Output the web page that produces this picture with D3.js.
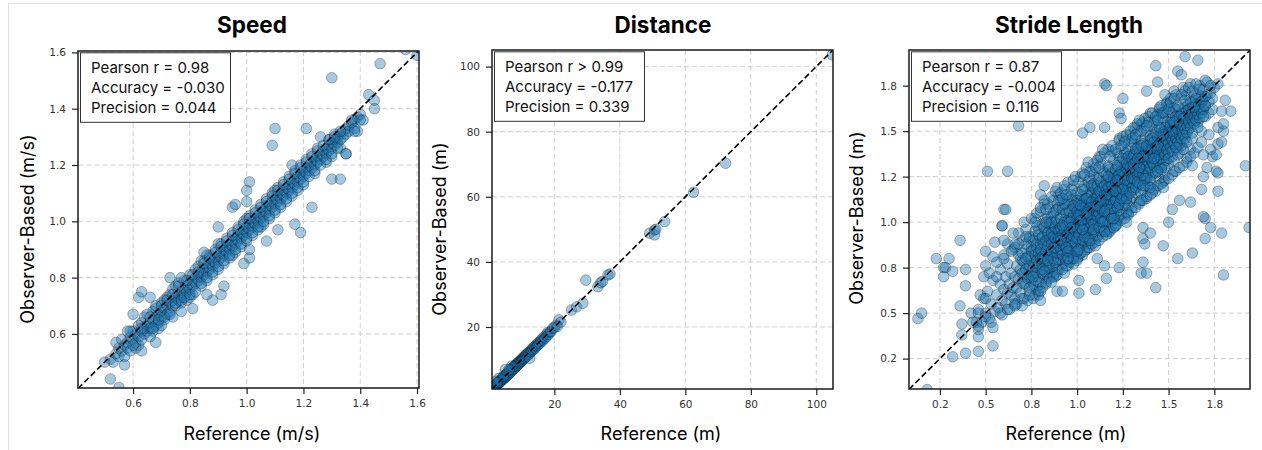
<!DOCTYPE html>
<html>
<head>
<meta charset="utf-8">
<script src="https://cdn.jsdelivr.net/npm/d3@7"></script>
<style>
  body { margin: 0; background: #fff; }
  svg { display: block; }
</style>
</head>
<body>
<div id="canvas"></div>
<script>
// ---- data (reference, observer-based) ----

const speedTicks = [0.6, 0.8, 1.0, 1.2, 1.4, 1.6];
const speedTickLabels = ["0.6", "0.8", "1.0", "1.2", "1.4", "1.6"];
const speedStats = ["Pearson r = 0.98", "Accuracy = -0.030", "Precision = 0.044"];

const speedBand = [
  [0.52,0.51],[0.53,0.50],[0.54,0.53],[0.55,0.52],[0.55,0.55],[0.56,0.54],[0.57,0.52],[0.57,0.56],[0.54,0.57],[0.56,0.58],
  [0.58,0.57],[0.58,0.55],[0.59,0.59],[0.59,0.54],[0.60,0.58],[0.60,0.61],[0.61,0.57],[0.61,0.60],[0.62,0.59],[0.62,0.63],[0.59,0.61],[0.61,0.55],[0.62,0.56],
  [0.63,0.61],[0.63,0.64],[0.63,0.58],[0.64,0.62],[0.64,0.60],[0.64,0.66],[0.65,0.63],[0.65,0.61],[0.65,0.67],[0.66,0.64],[0.66,0.62],[0.67,0.65],[0.67,0.68],[0.67,0.61],[0.66,0.59],
  [0.68,0.66],[0.68,0.63],[0.68,0.69],[0.69,0.67],[0.69,0.64],[0.70,0.68],[0.70,0.66],[0.70,0.71],[0.71,0.69],[0.71,0.65],[0.71,0.72],[0.72,0.70],[0.72,0.67],[0.72,0.73],[0.69,0.62],[0.70,0.63],
  [0.73,0.71],[0.73,0.68],[0.73,0.74],[0.74,0.72],[0.74,0.70],[0.74,0.76],[0.75,0.73],[0.75,0.70],[0.75,0.77],[0.76,0.74],[0.76,0.72],[0.76,0.78],[0.77,0.75],[0.77,0.73],[0.77,0.71],[0.74,0.66],
  [0.78,0.76],[0.78,0.74],[0.78,0.79],[0.79,0.77],[0.79,0.75],[0.79,0.72],[0.80,0.78],[0.80,0.76],[0.80,0.81],[0.81,0.79],[0.81,0.77],[0.81,0.74],[0.82,0.80],[0.82,0.78],[0.82,0.83],[0.80,0.73],
  [0.83,0.81],[0.83,0.79],[0.83,0.84],[0.84,0.82],[0.84,0.80],[0.84,0.77],[0.85,0.83],[0.85,0.81],[0.85,0.86],[0.86,0.84],[0.86,0.82],[0.86,0.79],[0.87,0.85],[0.87,0.83],[0.87,0.88],[0.84,0.86],[0.86,0.88],
  [0.88,0.86],[0.88,0.84],[0.88,0.81],[0.89,0.87],[0.89,0.85],[0.89,0.90],[0.90,0.88],[0.90,0.86],[0.90,0.83],[0.91,0.89],[0.91,0.87],[0.91,0.92],[0.92,0.90],[0.92,0.88],[0.92,0.85],[0.90,0.92],
  [0.93,0.91],[0.93,0.89],[0.93,0.94],[0.94,0.92],[0.94,0.90],[0.94,0.87],[0.95,0.93],[0.95,0.91],[0.95,0.96],[0.96,0.94],[0.96,0.92],[0.96,0.89],[0.97,0.95],[0.97,0.93],[0.97,0.98],[0.95,0.88],
  [0.98,0.96],[0.98,0.94],[0.98,0.91],[0.99,0.97],[0.99,0.95],[0.99,1.00],[1.00,0.98],[1.00,0.96],[1.00,0.93],[1.01,0.99],[1.01,0.97],[1.01,1.02],[1.02,1.00],[1.02,0.98],[1.02,0.95],[1.00,1.01],
  [1.03,1.01],[1.03,0.99],[1.03,1.04],[1.04,1.02],[1.04,1.00],[1.04,0.97],[1.05,1.03],[1.05,1.01],[1.05,1.06],[1.06,1.04],[1.06,1.02],[1.06,0.99],[1.07,1.05],[1.07,1.03],[1.07,1.08],[1.05,0.98],
  [1.08,1.06],[1.08,1.04],[1.08,1.01],[1.09,1.07],[1.09,1.05],[1.09,1.10],[1.10,1.08],[1.10,1.06],[1.10,1.03],[1.11,1.09],[1.11,1.07],[1.11,1.12],[1.12,1.10],[1.12,1.08],[1.12,1.05],[1.10,1.11],
  [1.13,1.11],[1.13,1.09],[1.13,1.14],[1.14,1.12],[1.14,1.10],[1.14,1.07],[1.15,1.13],[1.15,1.11],[1.15,1.16],[1.16,1.14],[1.16,1.12],[1.16,1.09],[1.17,1.15],[1.17,1.13],[1.17,1.18],
  [1.18,1.16],[1.18,1.14],[1.18,1.11],[1.19,1.17],[1.19,1.15],[1.19,1.20],[1.20,1.18],[1.20,1.16],[1.20,1.13],[1.21,1.19],[1.21,1.17],[1.21,1.22],[1.22,1.20],[1.22,1.18],
  [1.23,1.21],[1.23,1.19],[1.23,1.24],[1.24,1.22],[1.24,1.20],[1.24,1.17],[1.25,1.23],[1.25,1.21],[1.25,1.26],[1.26,1.24],[1.26,1.22],[1.27,1.25],[1.27,1.23],
  [1.28,1.26],[1.28,1.24],[1.28,1.21],[1.29,1.27],[1.29,1.25],[1.29,1.29],[1.30,1.28],[1.30,1.26],[1.30,1.23],[1.31,1.29],[1.31,1.27],[1.32,1.30],[1.32,1.28],[1.31,1.31],
  [1.33,1.31],[1.33,1.29],[1.33,1.26],[1.34,1.32],[1.34,1.30],[1.35,1.33],[1.35,1.31],[1.35,1.24],[1.36,1.34],[1.36,1.32],[1.37,1.35],
  [1.38,1.36],[1.38,1.33],[1.39,1.37],[1.39,1.32],[1.40,1.38],[1.41,1.36]
];

const speedBandDense = [
  [0.66,0.66],[0.67,0.62],[0.68,0.70],[0.69,0.65],[0.70,0.70],[0.71,0.66],[0.72,0.72],[0.73,0.67],[0.74,0.74],[0.75,0.71],
  [0.76,0.77],[0.77,0.72],[0.78,0.73],[0.79,0.79],[0.80,0.74],[0.81,0.81],[0.82,0.75],[0.83,0.82],[0.84,0.78],[0.85,0.85],
  [0.86,0.80],[0.87,0.87],[0.88,0.82],[0.89,0.89],[0.90,0.84],[0.91,0.91],[0.92,0.86],[0.93,0.93],[0.94,0.88],[0.95,0.95],
  [0.96,0.90],[0.97,0.97],[0.98,0.92],[0.99,0.99],[1.00,0.94],[1.01,1.01],[1.02,0.96],[1.03,1.03],[1.04,0.98],[1.05,1.05],
  [1.06,1.00],[1.07,1.07],[1.08,1.02],[1.09,1.09],[1.10,1.04],[1.11,1.11],[1.12,1.06],[1.13,1.13],[1.14,1.08],[1.15,1.15],
  [1.16,1.10],[1.17,1.17],[1.18,1.12],[1.19,1.19],[1.20,1.14],[1.21,1.21],[1.22,1.16],[1.23,1.23],[1.24,1.18],[1.25,1.25],
  [1.26,1.20],[1.27,1.27],[1.28,1.22],[1.29,1.29],[1.30,1.24],[1.31,1.30],[1.32,1.26],[1.33,1.32],[0.63,0.62],[0.60,0.56]
];

const speedOutliers = [
  [1.56,1.61],[1.60,1.59],[1.47,1.56],[1.30,1.51],[1.43,1.45],[1.45,1.43],[1.45,1.40],[1.40,1.36],[1.37,1.36],[1.38,1.32],
  [1.10,1.33],[1.21,1.33],[1.09,1.27],[1.26,1.30],[1.30,1.15],[1.33,1.15],[1.35,1.24],[1.16,1.20],[1.23,1.05],[1.17,0.99],
  [1.19,0.96],[1.07,0.93],[1.11,0.97],[1.01,1.14],[1.00,1.11],[0.95,1.05],[0.96,1.06],[1.00,1.07],[0.90,0.98],[1.01,0.90],
  [1.01,0.87],[0.99,0.85],[0.91,0.74],[0.88,0.72],[0.92,0.77],[0.86,0.74],[0.85,0.89],[0.77,0.68],[0.81,0.69],[0.73,0.80],
  [0.77,0.80],[0.66,0.73],[0.62,0.73],[0.63,0.75],[0.60,0.67],[0.68,0.57],[0.63,0.54],[0.57,0.49],[0.58,0.61],[0.50,0.50],
  [0.52,0.44],[0.55,0.41]
];

const distanceTicks = [20, 40, 60, 80, 100];
const distanceTickLabels = ["20", "40", "60", "80", "100"];
const distanceStats = ["Pearson r > 0.99", "Accuracy = -0.177", "Precision = 0.339"];

const distanceBand = [
  [1.2,1.1],[1.4,1.5],[1.5,1.3],[1.7,1.8],[1.8,1.6],[2.0,2.1],[2.1,1.9],[2.3,2.2],[2.4,2.6],[2.5,2.3],
  [2.7,2.8],[2.8,2.5],[3.0,3.1],[3.1,2.8],[3.3,3.4],[3.4,3.1],[3.6,3.7],[3.7,3.3],[3.9,4.0],[4.0,3.7],
  [4.2,4.4],[4.3,3.9],[4.5,4.6],[4.6,4.2],[4.8,5.0],[4.9,4.5],[5.1,5.3],[5.2,4.8],[5.4,5.6],[5.5,5.0],
  [5.7,5.9],[5.8,5.3],[6.0,6.1],[6.1,5.6],[6.3,6.5],[6.4,6.0],[6.6,6.8],[6.7,6.2],[6.9,7.1],[7.0,6.6],
  [7.2,7.3],[7.3,6.9],[7.5,7.7],[7.6,7.1],[7.8,8.0],[7.9,7.4],[8.1,8.2],[8.2,7.8],[8.4,8.6],[8.5,8.0],
  [8.7,8.8],[8.8,8.3],[9.0,9.1],[9.1,8.7],[9.3,9.4],[9.5,9.0],[9.6,9.7],[9.8,9.3],[10.0,10.1],[10.1,9.6],
  [10.3,10.4],[10.5,10.0],[10.7,10.8],[10.8,10.3],[11.0,11.1],[11.2,10.7],[11.4,11.5],[11.5,11.0],[11.7,11.8],[11.9,11.4],
  [12.1,12.2],[12.3,11.7],[12.5,10.4],[12.6,12.5],[12.8,12.3],[13.0,13.1],[13.2,12.7],[13.4,13.5],[13.6,13.1],[13.9,13.9],
  [14.1,13.5],[14.3,14.3],[14.6,14.1],[14.8,14.9],[15.0,14.5],[15.3,15.3],[15.5,14.9],[15.8,15.8],[16.0,15.5],[16.3,16.4],
  [16.6,16.0],[16.9,17.0],[17.2,16.6],[17.5,17.6],[17.8,17.2],[18.0,18.4],[18.3,17.8],[18.7,18.5],[19.0,18.6],[19.5,19.6],
  [20.0,19.8],[5.1,7.0],[3.0,4.2],[2.2,3.3],[7.0,8.0],[1.0,1.2],[1.3,0.9],[2.6,2.9],[4.4,4.9],[6.2,6.9]
];

const distanceOutliers = [
  [20.6,20.6],[21.4,22.2],[22.0,21.5],[21.0,20.2],[25.2,25.2],[26.8,26.2],[28.7,27.3],[29.6,34.4],[33.3,32.4],[34.1,33.6],
  [34.7,34.0],[36.4,36.0],[37.0,36.3],[49.1,48.8],[50.6,49.8],[50.6,48.3],[51.0,50.0],[53.7,52.4],[62.5,61.4],[72.3,70.3],
  [104.9,103.6]
];

const strideTicks = [0.25, 0.5, 0.75, 1.0, 1.25, 1.5, 1.75];
const strideTickLabels = ["0.2", "0.5", "0.8", "1.0", "1.2", "1.5", "1.8"];
const strideStats = ["Pearson r = 0.87", "Accuracy = -0.004", "Precision = 0.116"];

const strideCore = [
  [0.46,0.52],[0.48,0.45],[0.49,0.58],[0.50,0.50],[0.51,0.62],[0.52,0.47],[0.53,0.55],[0.54,0.68],[0.52,0.72],[0.55,0.51],[0.47,0.60],[0.54,0.42],
  [0.56,0.60],[0.57,0.53],[0.58,0.66],[0.58,0.74],[0.59,0.57],[0.60,0.63],[0.60,0.82],[0.61,0.55],[0.61,0.70],[0.62,0.61],
  [0.62,0.77],[0.63,0.66],[0.63,0.52],[0.64,0.72],[0.64,0.60],[0.65,0.85],[0.56,0.70],[0.59,0.49],[0.62,0.88],[0.65,0.64],
  [0.66,0.70],[0.66,0.58],[0.67,0.76],[0.67,0.64],[0.68,0.82],[0.68,0.69],[0.69,0.61],[0.69,0.74],[0.70,0.90],[0.70,0.67],
  [0.70,0.79],[0.71,0.72],[0.71,0.58],[0.72,0.85],[0.72,0.66],[0.72,0.96],[0.73,0.76],[0.73,0.70],[0.74,0.62],[0.74,0.81],
  [0.74,0.91],[0.75,0.73],[0.75,0.68],[0.66,0.86],[0.68,0.94],[0.71,1.00],[0.73,0.57],[0.69,0.80],[0.75,0.86],[0.67,0.55],
  [0.76,0.78],[0.76,0.66],[0.76,0.92],[0.77,0.72],[0.77,0.84],[0.77,1.02],[0.78,0.75],[0.78,0.63],[0.78,0.88],[0.79,0.80],
  [0.79,0.70],[0.79,0.96],[0.80,0.82],[0.80,0.74],[0.80,1.06],[0.80,0.66],[0.81,0.89],[0.81,0.77],[0.81,0.99],[0.82,0.71],
  [0.82,0.84],[0.82,0.93],[0.82,1.10],[0.83,0.79],[0.83,0.67],[0.83,0.87],[0.83,1.02],[0.84,0.75],[0.84,0.92],[0.84,0.82],
  [0.84,0.70],[0.85,0.86],[0.85,0.97],[0.85,0.78],[0.85,1.08],[0.76,0.85],[0.78,0.98],[0.79,0.62],[0.81,0.72],[0.82,0.78],
  [0.83,0.95],[0.84,1.00],[0.77,0.60],[0.80,0.91],[0.85,0.72],
  [0.86,0.80],[0.86,0.91],[0.86,0.72],[0.86,1.03],[0.87,0.85],[0.87,0.76],[0.87,0.96],[0.87,1.12],[0.88,0.82],[0.88,0.89],
  [0.88,0.70],[0.88,1.00],[0.89,0.87],[0.89,0.78],[0.89,0.94],[0.89,1.07],[0.90,0.84],[0.90,0.91],[0.90,0.74],[0.90,1.15],
  [0.90,0.99],[0.91,0.88],[0.91,0.80],[0.91,0.95],[0.91,1.04],[0.92,0.86],[0.92,0.92],[0.92,0.77],[0.92,1.09],[0.93,0.90],
  [0.93,0.83],[0.93,0.98],[0.93,1.18],[0.93,0.72],[0.94,0.88],[0.94,0.95],[0.94,1.02],[0.94,0.80],[0.95,0.91],[0.95,0.85],
  [0.95,1.06],[0.95,0.97],[0.86,0.97],[0.87,0.90],[0.88,1.06],[0.89,0.83],[0.90,0.79],[0.91,1.12],[0.92,0.97],[0.93,0.87],
  [0.94,1.10],[0.95,0.76],[0.88,0.94],[0.91,0.91],[0.94,0.84],
  [0.96,0.93],[0.96,0.86],[0.96,1.01],[0.96,1.14],[0.96,0.79],[0.97,0.90],[0.97,0.97],[0.97,1.07],[0.97,0.83],[0.98,0.94],
  [0.98,1.02],[0.98,0.88],[0.98,1.20],[0.98,0.77],[0.99,0.96],[0.99,1.05],[0.99,0.91],[0.99,0.84],[1.00,0.99],[1.00,0.93],
  [1.00,1.09],[1.00,0.86],[1.00,1.16],[1.01,0.97],[1.01,1.03],[1.01,0.90],[1.01,0.81],[1.02,1.00],[1.02,0.94],[1.02,1.12],
  [1.02,1.25],[1.03,0.98],[1.03,1.06],[1.03,0.88],[1.03,0.82],[1.04,1.02],[1.04,0.95],[1.04,1.10],[1.04,1.18],[1.05,0.99],
  [1.05,1.05],[1.05,0.91],[1.05,0.85],[0.96,0.97],[0.97,1.12],[0.98,0.98],[0.99,1.00],[1.00,1.04],[1.01,1.08],[1.02,0.87],
  [1.03,1.14],[1.04,0.89],[1.05,1.13],[0.97,0.93],[0.99,1.10],[1.01,0.94],[1.03,1.02],[1.05,0.96],[1.00,0.80],[1.02,1.06],
  [1.06,1.03],[1.06,0.96],[1.06,1.10],[1.06,0.88],[1.06,1.22],[1.07,1.00],[1.07,1.07],[1.07,0.93],[1.07,1.16],[1.08,1.04],
  [1.08,0.98],[1.08,1.12],[1.08,0.90],[1.08,1.28],[1.09,1.06],[1.09,1.01],[1.09,0.95],[1.09,1.19],[1.10,1.08],[1.10,1.03],
  [1.10,0.97],[1.10,1.14],[1.10,0.89],[1.11,1.05],[1.11,1.11],[1.11,0.99],[1.11,1.24],[1.12,1.09],[1.12,1.02],[1.12,1.17],
  [1.12,0.93],[1.13,1.07],[1.13,1.13],[1.13,1.00],[1.13,1.32],[1.14,1.10],[1.14,1.04],[1.14,1.20],[1.14,0.96],[1.15,1.12],
  [1.15,1.06],[1.15,1.27],[1.15,0.99],[1.06,1.06],[1.07,1.20],[1.08,1.08],[1.09,1.13],[1.10,1.01],[1.11,1.16],[1.12,1.06],
  [1.13,0.95],[1.14,1.15],[1.15,1.18],[1.07,0.86],[1.09,1.26],[1.11,0.92],[1.12,1.36],[1.13,1.21],[1.14,1.01],[1.10,1.10],
  [1.16,1.10],[1.16,1.17],[1.16,1.03],[1.16,1.26],[1.16,0.95],[1.17,1.13],[1.17,1.08],[1.17,1.21],[1.17,1.00],[1.18,1.15],
  [1.18,1.10],[1.18,1.29],[1.18,1.04],[1.18,0.96],[1.19,1.18],[1.19,1.12],[1.19,1.24],[1.19,1.06],[1.20,1.16],[1.20,1.20],
  [1.20,1.09],[1.20,1.34],[1.20,1.01],[1.21,1.19],[1.21,1.13],[1.21,1.27],[1.21,0.98],[1.22,1.21],[1.22,1.15],[1.22,1.08],
  [1.22,1.38],[1.23,1.18],[1.23,1.24],[1.23,1.11],[1.23,1.03],[1.24,1.22],[1.24,1.16],[1.24,1.31],[1.24,1.06],[1.25,1.20],
  [1.25,1.26],[1.25,1.13],[1.25,1.42],[1.16,1.21],[1.17,1.31],[1.18,1.20],[1.19,1.02],[1.20,1.25],[1.21,1.08],[1.22,1.30],
  [1.23,1.36],[1.24,1.12],[1.25,1.17],[1.17,0.94],[1.19,1.39],[1.21,1.22],[1.22,1.01],[1.23,1.46],[1.24,1.27],[1.20,1.13],
  [1.26,1.23],[1.26,1.17],[1.26,1.30],[1.26,1.09],[1.26,1.45],[1.27,1.25],[1.27,1.20],[1.27,1.35],[1.27,1.12],[1.28,1.28],
  [1.28,1.22],[1.28,1.15],[1.28,1.40],[1.28,1.05],[1.29,1.26],[1.29,1.31],[1.29,1.19],[1.29,1.48],[1.30,1.29],[1.30,1.24],
  [1.30,1.36],[1.30,1.14],[1.30,1.08],[1.31,1.27],[1.31,1.33],[1.31,1.21],[1.31,1.43],[1.32,1.30],[1.32,1.25],[1.32,1.38],
  [1.32,1.16],[1.33,1.32],[1.33,1.28],[1.33,1.50],[1.33,1.20],[1.34,1.34],[1.34,1.29],[1.34,1.41],[1.34,1.11],[1.35,1.31],
  [1.35,1.37],[1.35,1.24],[1.35,1.54],[1.26,1.38],[1.27,1.05],[1.28,1.33],[1.29,1.37],[1.30,1.44],[1.31,1.18],[1.32,1.46],
  [1.33,1.39],[1.34,1.23],[1.35,1.45],[1.29,1.12],[1.32,1.52],
  [1.36,1.34],[1.36,1.28],[1.36,1.41],[1.36,1.18],[1.36,1.55],[1.37,1.36],[1.37,1.31],[1.37,1.46],[1.37,1.23],[1.38,1.39],
  [1.38,1.33],[1.38,1.50],[1.38,1.26],[1.38,1.13],[1.39,1.37],[1.39,1.42],[1.39,1.29],[1.39,1.58],[1.40,1.40],[1.40,1.35],
  [1.40,1.47],[1.40,1.21],[1.41,1.38],[1.41,1.44],[1.41,1.32],[1.41,1.53],[1.42,1.41],[1.42,1.36],[1.42,1.48],[1.42,1.27],
  [1.43,1.43],[1.43,1.39],[1.43,1.56],[1.43,1.17],[1.44,1.45],[1.44,1.40],[1.44,1.51],[1.44,1.30],[1.45,1.42],[1.45,1.48],
  [1.45,1.35],[1.45,1.62],[1.37,1.52],[1.39,1.20],[1.40,1.60],[1.41,1.26],[1.42,1.55],[1.43,1.33],[1.44,1.59],[1.45,1.24],
  [1.46,1.45],[1.46,1.39],[1.46,1.52],[1.46,1.30],[1.47,1.47],[1.47,1.42],[1.47,1.57],[1.47,1.34],[1.48,1.50],[1.48,1.44],
  [1.48,1.61],[1.48,1.26],[1.49,1.48],[1.49,1.53],[1.49,1.40],[1.49,1.66],[1.50,1.51],[1.50,1.46],[1.50,1.58],[1.50,1.32],
  [1.51,1.49],[1.51,1.55],[1.51,1.42],[1.51,1.68],[1.52,1.52],[1.52,1.47],[1.52,1.60],[1.52,1.36],[1.53,1.54],[1.53,1.50],
  [1.53,1.63],[1.53,1.28],[1.54,1.56],[1.54,1.45],[1.54,1.70],[1.55,1.53],[1.55,1.58],[1.55,1.40],[1.46,1.60],[1.48,1.37],
  [1.50,1.64],[1.52,1.43],[1.54,1.62],[1.47,1.22],[1.53,1.72],
  [1.56,1.55],[1.56,1.49],[1.56,1.62],[1.56,1.38],[1.57,1.58],[1.57,1.52],[1.57,1.68],[1.58,1.60],[1.58,1.54],[1.58,1.44],
  [1.58,1.74],[1.59,1.57],[1.59,1.63],[1.59,1.48],[1.60,1.61],[1.60,1.56],[1.60,1.70],[1.60,1.35],[1.61,1.59],[1.61,1.65],
  [1.61,1.51],[1.62,1.63],[1.62,1.57],[1.62,1.76],[1.63,1.60],[1.63,1.66],[1.63,1.46],[1.64,1.62],[1.64,1.70],[1.64,1.55],
  [1.65,1.65],[1.65,1.59],[1.57,1.42],[1.59,1.72],[1.62,1.40],
  [1.66,1.63],[1.66,1.70],[1.66,1.55],[1.67,1.66],[1.67,1.75],[1.68,1.62],[1.68,1.69],[1.68,1.50],[1.69,1.67],[1.69,1.73],
  [1.70,1.64],[1.70,1.58],[1.71,1.70],[1.71,1.77],[1.72,1.66],[1.72,1.60],[1.73,1.71],[1.74,1.68],[1.75,1.74],[1.74,1.62]
];

// second, tighter layer where the cloud is darkest
const strideDense = [
  [0.70,0.72],[0.70,0.83],[0.71,0.66],[0.71,0.78],[0.72,0.74],[0.72,0.88],[0.73,0.69],[0.73,0.81],[0.74,0.76],[0.74,0.64],
  [0.75,0.84],[0.75,0.79],[0.75,0.71],[0.76,0.90],[0.76,0.75],[0.77,0.82],[0.77,0.68],[0.77,0.95],[0.78,0.79],[0.78,0.86],
  [0.78,0.72],[0.79,0.83],[0.79,0.77],[0.79,0.67],[0.80,0.88],[0.80,0.80],[0.72,0.80],[0.74,0.92],[0.76,0.70],[0.79,0.93],
  [0.80,0.85],[0.81,0.81],[0.81,0.92],[0.81,0.74],[0.82,0.88],[0.82,0.97],[0.82,0.80],[0.83,0.90],[0.83,0.84],[0.83,0.76],
  [0.84,0.94],[0.84,0.87],[0.84,1.03],[0.85,0.82],[0.85,0.91],[0.85,0.75],[0.85,0.99],[0.86,0.88],[0.86,0.84],[0.86,0.94],
  [0.87,0.80],[0.87,0.92],[0.87,1.05],[0.88,0.86],[0.88,0.78],[0.88,0.97],[0.88,0.91],[0.89,0.83],[0.89,1.01],[0.89,0.89],
  [0.89,0.74],[0.90,0.95],[0.90,0.87],[0.90,1.08],[0.82,0.73],[0.84,0.79],[0.86,1.00],[0.87,0.86],[0.83,1.00],[0.88,0.72],
  [0.90,0.91],[0.91,0.97],[0.91,0.85],[0.91,1.02],[0.92,0.93],[0.92,0.82],[0.92,1.07],[0.93,0.96],[0.93,0.88],[0.93,1.00],
  [0.94,0.92],[0.94,0.79],[0.94,1.05],[0.94,0.98],[0.95,0.89],[0.95,1.12],[0.95,0.94],[0.95,1.01],[0.96,0.84],[0.96,0.96],
  [0.96,1.06],[0.97,0.91],[0.97,1.02],[0.97,0.87],[0.97,1.15],[0.98,0.97],[0.98,1.04],[0.98,0.92],[0.98,0.81],[0.99,0.99],
  [0.99,1.08],[0.99,0.89],[0.99,0.95],[1.00,1.02],[1.00,0.91],[1.00,1.12],[0.91,0.90],[0.93,1.10],[0.94,0.86],[0.96,1.00],
  [0.97,0.97],[0.98,1.09],[1.00,0.97],[0.92,0.98],[0.95,0.84],
  [1.00,1.06],[1.01,1.00],[1.01,1.10],[1.01,0.93],[1.02,1.04],[1.02,0.97],[1.02,1.15],[1.03,1.08],[1.03,1.01],[1.03,0.90],
  [1.04,1.05],[1.04,1.12],[1.04,0.98],[1.04,1.20],[1.05,1.02],[1.05,1.09],[1.05,0.94],[1.06,1.07],[1.06,1.00],[1.06,1.14],
  [1.06,0.91],[1.07,1.04],[1.07,1.11],[1.07,0.97],[1.07,1.24],[1.08,1.07],[1.08,1.01],[1.08,1.16],[1.08,0.94],[1.09,1.10],
  [1.09,1.04],[1.09,0.99],[1.09,1.21],[1.10,1.06],[1.10,1.13],[1.10,0.93],[1.01,1.04],[1.02,1.09],[1.03,1.18],[1.04,0.92],
  [1.05,1.13],[1.06,1.04],[1.07,1.08],[1.08,1.11],[1.09,0.96],[1.10,1.18],[1.02,1.01],[1.05,1.05],[1.08,1.20],[1.03,0.96],
  [1.10,1.09],[1.11,1.14],[1.11,1.03],[1.11,1.20],[1.12,1.11],[1.12,1.05],[1.12,1.24],[1.12,0.97],[1.13,1.16],[1.13,1.08],
  [1.13,1.02],[1.14,1.13],[1.14,1.19],[1.14,1.06],[1.14,1.28],[1.15,1.10],[1.15,1.15],[1.15,1.01],[1.16,1.18],[1.16,1.12],
  [1.16,1.07],[1.16,1.23],[1.17,1.15],[1.17,1.10],[1.17,1.04],[1.17,1.30],[1.18,1.17],[1.18,1.12],[1.18,1.22],[1.18,1.00],
  [1.19,1.14],[1.19,1.09],[1.19,1.27],[1.20,1.19],[1.20,1.11],[1.20,1.05],[1.11,1.09],[1.12,1.17],[1.13,1.22],[1.14,1.00],
  [1.15,1.20],[1.16,1.15],[1.17,1.19],[1.18,1.07],[1.19,1.20],[1.20,1.24],[1.13,1.12],[1.15,1.06],[1.17,1.25],[1.19,1.02],
  [1.20,1.17],[1.21,1.22],[1.21,1.12],[1.21,1.29],[1.22,1.19],[1.22,1.25],[1.22,1.08],[1.23,1.22],[1.23,1.16],[1.23,1.33],
  [1.23,1.10],[1.24,1.24],[1.24,1.19],[1.24,1.28],[1.24,1.04],[1.25,1.21],[1.25,1.27],[1.25,1.14],[1.26,1.26],[1.26,1.20],
  [1.26,1.33],[1.26,1.11],[1.27,1.23],[1.27,1.29],[1.27,1.17],[1.27,1.38],[1.28,1.25],[1.28,1.20],[1.28,1.31],[1.28,1.09],
  [1.29,1.27],[1.29,1.22],[1.29,1.35],[1.30,1.28],[1.30,1.19],[1.30,1.32],[1.21,1.17],[1.22,1.31],[1.23,1.26],[1.24,1.13],
  [1.25,1.35],[1.26,1.23],[1.27,1.13],[1.28,1.36],[1.29,1.16],[1.30,1.24],[1.22,1.23],[1.25,1.18],[1.27,1.32],[1.29,1.30],
  [1.30,1.35],[1.31,1.30],[1.31,1.24],[1.31,1.37],[1.32,1.28],[1.32,1.33],[1.32,1.19],[1.33,1.31],[1.33,1.26],[1.33,1.41],
  [1.34,1.33],[1.34,1.27],[1.34,1.21],[1.34,1.38],[1.35,1.30],[1.35,1.35],[1.35,1.16],[1.36,1.32],[1.36,1.26],[1.36,1.43],
  [1.37,1.34],[1.37,1.29],[1.37,1.39],[1.37,1.20],[1.38,1.31],[1.38,1.36],[1.38,1.24],[1.39,1.33],[1.39,1.40],[1.39,1.27],
  [1.40,1.35],[1.40,1.30],[1.40,1.45],[1.31,1.32],[1.32,1.40],[1.33,1.22],[1.34,1.30],[1.35,1.42],[1.36,1.36],[1.37,1.24],
  [1.38,1.42],[1.39,1.36],[1.40,1.23],[1.33,1.35],[1.36,1.20],
  [1.41,1.40],[1.41,1.33],[1.41,1.46],[1.42,1.38],[1.42,1.31],[1.42,1.44],[1.43,1.36],[1.43,1.41],[1.43,1.27],[1.44,1.39],
  [1.44,1.34],[1.44,1.47],[1.45,1.37],[1.45,1.43],[1.45,1.30],[1.46,1.41],[1.46,1.35],[1.46,1.49],[1.47,1.39],[1.47,1.45],
  [1.47,1.32],[1.48,1.42],[1.48,1.37],[1.48,1.52],[1.49,1.40],[1.49,1.45],[1.49,1.34],[1.50,1.43],[1.50,1.38],[1.50,1.49],
  [1.42,1.35],[1.43,1.49],[1.44,1.42],[1.45,1.52],[1.46,1.29],[1.47,1.48],[1.48,1.30],[1.49,1.55],[1.50,1.35],[1.44,1.28],
  [1.51,1.47],[1.51,1.41],[1.51,1.53],[1.52,1.45],[1.52,1.39],[1.52,1.56],[1.53,1.48],[1.53,1.43],[1.53,1.34],[1.54,1.50],
  [1.54,1.46],[1.54,1.58],[1.55,1.44],[1.55,1.51],[1.55,1.37],[1.56,1.48],[1.56,1.54],[1.56,1.43],[1.57,1.50],[1.57,1.46],
  [1.57,1.60],[1.58,1.48],[1.58,1.53],[1.58,1.40],[1.59,1.51],[1.59,1.46],[1.59,1.58],[1.60,1.53],[1.60,1.49],[1.60,1.44],
  [1.52,1.50],[1.54,1.41],[1.56,1.58],[1.58,1.57],[1.53,1.55],
  [1.61,1.55],[1.61,1.62],[1.62,1.52],[1.62,1.59],[1.63,1.56],[1.63,1.63],[1.63,1.49],[1.64,1.58],[1.64,1.54],[1.65,1.61],
  [1.65,1.56],[1.65,1.68],[1.66,1.59],[1.66,1.64],[1.67,1.57],[1.67,1.62],[1.68,1.60],[1.68,1.66],[1.69,1.62],[1.69,1.58],
  [1.70,1.64],[1.70,1.69],[1.62,1.66],[1.64,1.63],[1.66,1.52]
];

// points on the wide flanks of the cloud
const strideSpread = [
  [0.75,1.02],[0.76,0.58],[0.78,1.05],[0.79,0.60],[0.80,1.08],[0.81,0.64],[0.82,1.12],[0.83,0.66],[0.84,1.10],[0.85,0.69],
  [0.86,1.14],[0.87,0.70],[0.88,1.17],[0.89,0.71],[0.90,1.12],[0.77,1.00],[0.80,0.62],[0.83,1.07],[0.86,0.67],[0.89,1.19],
  [0.91,1.16],[0.92,0.74],[0.93,1.20],[0.94,0.76],[0.95,1.22],[0.96,0.78],[0.97,1.18],[0.98,0.80],[0.99,1.25],[1.00,0.79],
  [1.01,1.22],[1.02,0.83],[1.03,1.27],[1.04,0.84],[1.05,1.30],[1.06,0.86],[1.07,1.28],[1.08,0.88],[1.09,1.32],[1.10,0.87],
  [0.92,1.13],[0.95,0.80],[0.98,1.23],[1.01,0.85],[1.04,1.26],[1.07,0.90],[1.10,1.30],[0.94,1.15],[1.00,0.84],[1.06,1.33],
  [1.11,1.34],[1.12,0.90],[1.13,1.36],[1.14,0.92],[1.15,1.38],[1.16,0.93],[1.17,1.40],[1.18,0.95],[1.19,1.42],[1.20,0.97],
  [1.21,1.40],[1.22,0.99],[1.23,1.45],[1.24,1.01],[1.25,1.47],[1.26,1.02],[1.27,1.48],[1.28,1.04],[1.29,1.50],[1.30,1.06],
  [1.12,1.30],[1.15,0.95],[1.18,1.36],[1.21,0.98],[1.24,1.42],[1.27,1.00],[1.30,1.46],[1.14,1.40],[1.20,1.02],[1.26,1.44],
  [1.31,1.52],[1.32,1.08],[1.33,1.54],[1.34,1.10],[1.35,1.50],[1.36,1.12],[1.37,1.57],[1.38,1.14],[1.39,1.55],[1.40,1.15],
  [1.41,1.60],[1.42,1.18],[1.43,1.58],[1.44,1.20],[1.45,1.63],[1.46,1.21],[1.47,1.60],[1.48,1.23],[1.49,1.65],[1.50,1.24],
  [1.32,1.48],[1.35,1.12],[1.38,1.53],[1.41,1.16],[1.44,1.56],[1.47,1.19],[1.50,1.62],[1.34,1.56],[1.40,1.19],[1.46,1.64],
  [1.51,1.66],[1.52,1.26],[1.53,1.68],[1.54,1.28],[1.55,1.64],[1.56,1.30],[1.57,1.70],[1.58,1.31],[1.59,1.67],[1.60,1.33],
  [1.61,1.74],[1.62,1.36],[1.63,1.72],[1.64,1.38],[1.65,1.76],[1.66,1.41],[1.67,1.73],[1.68,1.44],[1.70,1.78],[1.72,1.48],
  [0.56,0.78],[0.58,0.50],[0.60,0.80],[0.62,0.52],[0.64,0.84],[0.66,0.55],[0.68,0.88],[0.70,0.58],[0.72,0.92],[0.74,0.60]
];

const strideOutliers = [
  [0.13,0.47],[0.15,0.50],[0.18,0.08],[0.23,0.80],[0.27,0.75],[0.28,0.75],[0.27,0.70],[0.30,0.80],[0.32,0.73],[0.36,0.90],
  [0.39,0.74],[0.39,0.65],[0.36,0.54],[0.37,0.44],[0.37,0.38],[0.32,0.26],[0.39,0.28],[0.42,0.50],[0.46,0.50],[0.45,0.45],
  [0.46,0.41],[0.46,0.37],[0.46,0.29],[0.54,0.32],[0.46,0.43],[0.43,0.45],[0.50,0.58],[0.50,0.48],[0.53,0.45],[0.59,0.98],
  [0.65,0.94],[0.66,0.88],[0.50,0.84],[0.50,0.76],[0.49,0.70],[0.55,0.89],[0.54,0.81],[0.60,0.90],[0.80,0.57],[0.89,0.62],
  [0.68,1.53],[0.51,1.28],[0.62,1.28],[0.60,1.07],[0.82,1.20],[0.80,1.15],[0.61,1.07],[0.59,0.98],[0.70,0.54],[0.66,0.54],
  [0.92,0.62],[1.01,0.61],[1.01,0.68],[1.10,0.63],[1.16,0.69],[1.15,0.76],[1.11,0.80],[1.23,0.75],[1.36,0.91],[1.36,0.97],
  [1.40,0.94],[1.37,0.88],[1.36,0.78],[1.35,0.72],[1.38,0.72],[1.43,0.64],[1.47,0.87],[1.50,1.00],[1.55,0.80],[1.63,0.83],
  [1.70,1.02],[1.70,0.91],[1.73,0.97],[1.79,0.94],[1.80,0.71],[1.94,0.97],[1.92,1.31],[1.77,1.17],[1.76,1.28],[1.74,1.36],
  [1.62,1.11],[1.56,1.12],[1.69,1.03],[1.52,1.07],[1.68,1.18],[1.69,1.25],[1.71,1.30],[1.77,1.27],[1.76,1.37],[1.73,1.40],
  [1.77,1.43],[1.79,1.44],[1.80,1.50],[1.77,1.52],[1.80,1.54],[1.84,1.61],[1.79,1.61],[1.81,1.67],[1.77,1.76],[1.73,1.75],
  [1.59,1.91],[1.66,1.89],[1.43,1.86],[1.15,1.76],[1.16,1.75],[1.25,1.68],[1.55,1.83],[1.57,1.81],[1.44,1.77],[1.38,1.72],
  [1.48,1.70],[1.03,1.49],[1.07,1.52],[1.15,1.52],[1.23,1.60],[1.24,1.57],[1.63,1.31],[1.69,1.37]
];

// ---- layout ----
const width = 1262;
const height = 450;

const svg = d3.select("#canvas")
  .append("svg")
  .attr("width", width)
  .attr("height", height);

// faint screenshot edge lines
svg.append("line")
  .attr("x1", 8.5).attr("y1", 3.5).attr("x2", width).attr("y2", 3.5)
  .attr("stroke", "#e2e2e2").attr("stroke-width", 1);
svg.append("line")
  .attr("x1", 8.5).attr("y1", 3.5).attr("x2", 8.5).attr("y2", height)
  .attr("stroke", "#e2e2e2").attr("stroke-width", 1);

const panels = [
  {
    id: "speed", title: "Speed", titleX: 252,
    xLabel: "Reference (m/s)", yLabel: "Observer-Based (m/s)", xLabelX: 252, yLabelX: 28, yLabelY: 229,
    left: 78, right: 419, top: 51, bottom: 388,
    domainX: [0.406, 1.607], domainY: [0.408, 1.605],
    ticks: speedTicks, tickLabels: speedTickLabels, stats: speedStats,
    points: speedBand.concat(speedBandDense, speedOutliers)
  },
  {
    id: "distance", title: "Distance", titleX: 663,
    xLabel: "Reference (m)", yLabel: "Observer-Based (m)", xLabelX: 661, yLabelX: 440, yLabelY: 229,
    left: 492, right: 833, top: 50, bottom: 389,
    domainX: [0.95, 105.1], domainY: [0.95, 105.1],
    ticks: distanceTicks, tickLabels: distanceTickLabels, stats: distanceStats,
    points: distanceBand.concat(distanceOutliers)
  },
  {
    id: "stride", title: "Stride Length", titleX: 1069,
    xLabel: "Reference (m)", yLabel: "Observer-Based (m)", xLabelX: 1066, yLabelX: 857, yLabelY: 218,
    left: 909, right: 1250, top: 50, bottom: 389,
    domainX: [0.081, 1.945], domainY: [0.083, 1.946],
    ticks: strideTicks, tickLabels: strideTickLabels, stats: strideStats,
    points: strideCore.concat(strideDense, strideSpread, strideOutliers)
  }
];

panels.forEach(drawPanel);

function drawPanel(p) {
  const x = d3.scaleLinear().domain(p.domainX).range([p.left, p.right]);
  const y = d3.scaleLinear().domain(p.domainY).range([p.bottom, p.top]);
  const g = svg.append("g");

  // grid
  g.append("g").selectAll("line")
    .data(p.ticks.filter(d => d >= p.domainX[0] && d <= p.domainX[1]))
    .join("line")
    .attr("x1", d => x(d)).attr("x2", d => x(d))
    .attr("y1", p.top).attr("y2", p.bottom)
    .attr("stroke", "#cfcfcf").attr("stroke-width", 1).attr("stroke-dasharray", "5,3");
  g.append("g").selectAll("line")
    .data(p.ticks.filter(d => d >= p.domainY[0] && d <= p.domainY[1]))
    .join("line")
    .attr("y1", d => y(d)).attr("y2", d => y(d))
    .attr("x1", p.left).attr("x2", p.right)
    .attr("stroke", "#cfcfcf").attr("stroke-width", 1).attr("stroke-dasharray", "5,3");

  // clipped plot area
  svg.append("clipPath").attr("id", "clip-" + p.id)
    .append("rect")
    .attr("x", p.left).attr("y", p.top)
    .attr("width", p.right - p.left).attr("height", p.bottom - p.top);

  const plot = g.append("g").attr("clip-path", "url(#clip-" + p.id + ")");

  plot.selectAll("circle")
    .data(p.points)
    .join("circle")
    .attr("cx", d => x(d[0]))
    .attr("cy", d => y(d[1]))
    .attr("r", 5.3)
    .attr("fill", "#1f77b4")
    .attr("fill-opacity", 0.4)
    .attr("stroke", "#000")
    .attr("stroke-opacity", 0.45)
    .attr("stroke-width", 0.65);

  // identity line
  const lo = Math.min(p.domainX[0], p.domainY[0]);
  const hi = Math.max(p.domainX[1], p.domainY[1]);
  plot.append("line")
    .attr("x1", x(lo)).attr("y1", y(lo))
    .attr("x2", x(hi)).attr("y2", y(hi))
    .attr("stroke", "#000")
    .attr("stroke-width", 1.6)
    .attr("stroke-dasharray", "6,3");

  // axes
  const fmt = (d, i) => p.tickLabels[i];
  const xAxis = g.append("g")
    .attr("transform", "translate(0," + p.bottom + ")")
    .call(d3.axisBottom(x).tickValues(p.ticks).tickFormat(fmt).tickSize(6).tickPadding(6));
  const yAxis = g.append("g")
    .attr("transform", "translate(" + p.left + ",0)")
    .call(d3.axisLeft(y).tickValues(p.ticks).tickFormat(fmt).tickSize(6).tickPadding(6));

  [xAxis, yAxis].forEach(a => {
    a.select(".domain").remove();
    a.selectAll(".tick line").attr("stroke", "#222").attr("stroke-width", 1.2);
    a.selectAll(".tick text")
      .attr("fill", "#333")
      .style("font-family", "'DejaVu Sans', sans-serif")
      .style("font-size", "10.5px");
  });

  // frame
  g.append("rect")
    .attr("x", p.left).attr("y", p.top)
    .attr("width", p.right - p.left).attr("height", p.bottom - p.top)
    .attr("fill", "none")
    .attr("stroke", "#1a1a1a")
    .attr("stroke-width", 1.5);

  // stats box
  g.append("rect")
    .attr("x", p.left + 2.5).attr("y", p.top + 1.8)
    .attr("width", 150).attr("height", 69.5)
    .attr("fill", "#fff")
    .attr("stroke", "#333")
    .attr("stroke-width", 1);

  g.append("g").selectAll("text")
    .data(p.stats)
    .join("text")
    .attr("x", p.left + 13)
    .attr("y", (d, i) => p.top + 21.5 + i * 20.3)
    .attr("fill", "#111")
    .style("font-family", "Inter, 'Open Sans', sans-serif")
    .style("font-size", "15px")
    .text(d => d);

  // title and labels
  g.append("text")
    .attr("x", p.titleX).attr("y", 33)
    .attr("text-anchor", "middle")
    .style("font-family", "Inter, sans-serif")
    .style("font-weight", 700)
    .style("font-size", "22.5px")
    .text(p.title);

  g.append("text")
    .attr("x", p.xLabelX).attr("y", 440)
    .attr("text-anchor", "middle")
    .style("font-family", "Inter, sans-serif")
    .style("font-size", "18px")
    .text(p.xLabel);

  g.append("text")
    .attr("transform", "translate(" + (p.yLabelX + 6) + "," + p.yLabelY + ") rotate(-90)")
    .attr("text-anchor", "middle")
    .style("font-family", "Inter, sans-serif")
    .style("font-size", "18px")
    .text(p.yLabel);
}
</script>
</body>
</html>
